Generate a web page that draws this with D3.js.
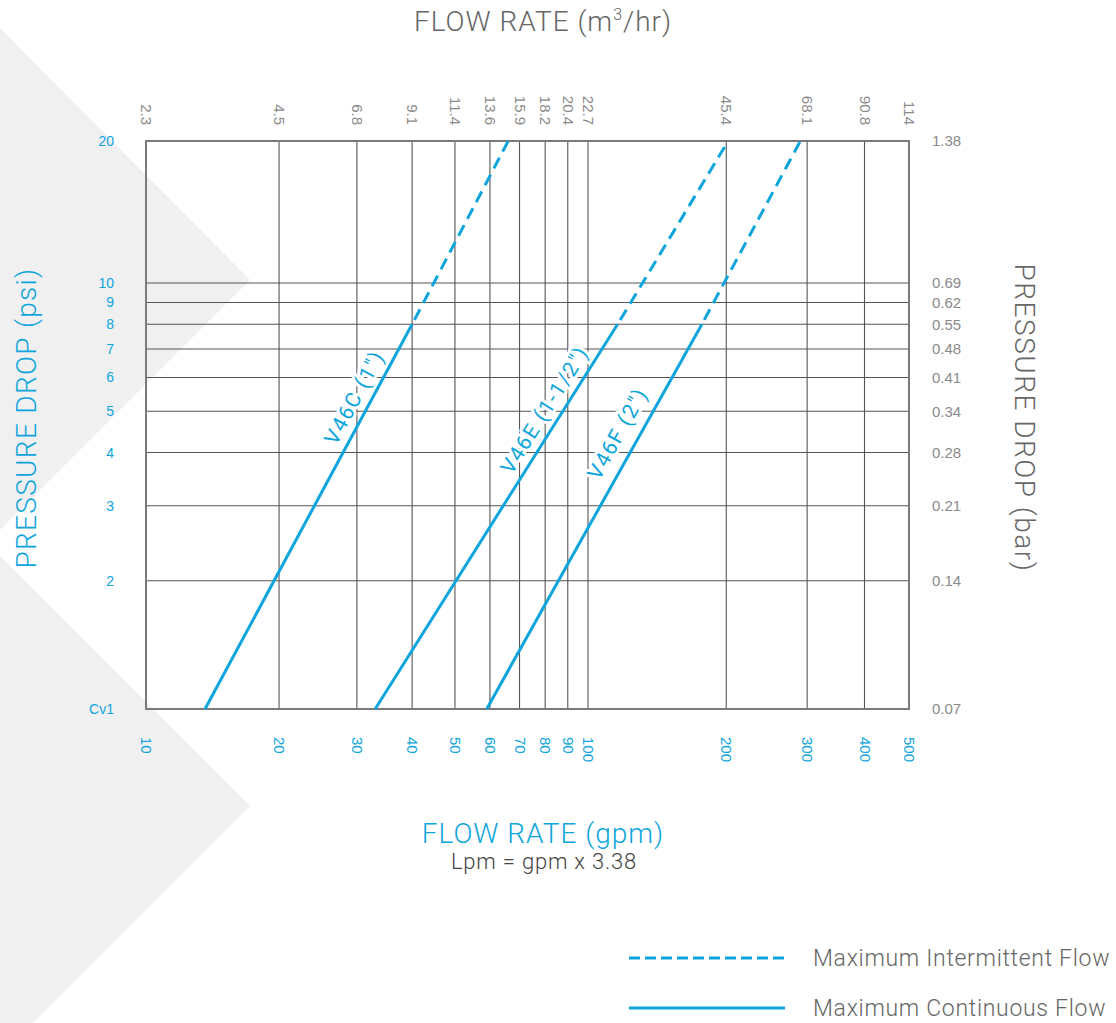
<!DOCTYPE html>
<html><head><meta charset="utf-8">
<script src="https://cdn.jsdelivr.net/npm/d3@7"></script>
<style>
html,body{margin:0;padding:0;background:#fff;}
svg{display:block;font-family:Roboto,"Open Sans",sans-serif;}
</style></head>
<body>
<svg id="c" width="1116" height="1023"></svg>
<script>
// ---------- data ----------
const gpmTicks   = [10,20,30,40,50,60,70,80,90,100,200,300,400,500];
const m3hrLabels = ["2.3","4.5","6.8","9.1","11.4","13.6","15.9","18.2","20.4","22.7","45.4","68.1","90.8","114"];
const psiTicks   = [1,2,3,4,5,6,7,8,9,10,20];
const psiLabels  = ["Cv1","2","3","4","5","6","7","8","9","10","20"];
const barLabels  = ["0.07","0.14","0.21","0.28","0.34","0.41","0.48","0.55","0.62","0.69","1.38"];
const valves     = ["V46C (1\")","V46E (1-1/2\")","V46F (2\")"];
// [gpm, psi] points: continuous (solid) part and intermittent (dashed) part
const continuousFlow = [
  [[13.6,1],[40,8]],
  [[33,1],[116,8]],
  [[59,1],[177,8]]
];
const intermittentFlow = [
  [[40,8],[66,20]],
  [[116,8],[202,20]],
  [[177,8],[290,20]]
];
const legendLabels = ["Maximum Intermittent Flow","Maximum Continuous Flow"];

// ---------- layout ----------
const BLUE = "#0ea5dc", GRAY = "#666", TICKGRAY = "#8a8a8a";
const L = 146, R = 909, T = 141, B = 709;
const svg = d3.select("#c");

// background chevrons
svg.append("path").attr("d","M0,28 L250,280 L0,530 Z").attr("fill","#f0f0f0");
svg.append("path").attr("d","M0,556 L250,806 L0,1056 Z").attr("fill","#f0f0f0");

const x = d3.scaleLog().domain([10,100,500]).range([L,588,R]);
const y = d3.scaleLog().domain([1,10,20]).range([B,283,T]);

// grid
const g = svg.append("g");
g.selectAll("line.v").data(gpmTicks).join("line")
  .attr("x1",d=>x(d)).attr("x2",d=>x(d)).attr("y1",T).attr("y2",B)
  .attr("stroke","#555").attr("stroke-width",1.1);
g.selectAll("line.h").data(psiTicks).join("line")
  .attr("x1",L).attr("x2",R).attr("y1",d=>y(d)).attr("y2",d=>y(d))
  .attr("stroke","#555").attr("stroke-width",1.1);

// axes (tick labels via d3 axes)
const fs = "15px";
const topAxis = d3.axisTop(x).tickValues(gpmTicks).tickSize(0)
  .tickFormat((d,i)=>m3hrLabels[i]);
svg.append("g").attr("transform",`translate(0,${T-16})`).call(topAxis)
  .call(s=>s.select(".domain").remove())
  .selectAll("text").attr("fill",TICKGRAY).attr("font-size",fs).attr("font-weight",300)
  .attr("transform","rotate(90)").attr("text-anchor","end")
  .attr("x",0).attr("y",0).attr("dx","0").attr("dy","0.35em");

const botAxis = d3.axisBottom(x).tickValues(gpmTicks).tickSize(0)
  .tickFormat(d=>d);
svg.append("g").attr("transform",`translate(0,${B+28})`).call(botAxis)
  .call(s=>s.select(".domain").remove())
  .selectAll("text").attr("fill",BLUE).attr("font-size",fs).attr("font-weight",300)
  .attr("transform","rotate(90)").attr("text-anchor","start")
  .attr("x",0).attr("y",0).attr("dy","0.35em");

const leftAxis = d3.axisLeft(y).tickValues(psiTicks).tickSize(0)
  .tickFormat((d,i)=>psiLabels[i]);
svg.append("g").attr("transform",`translate(${L-29},0)`).call(leftAxis)
  .call(s=>s.select(".domain").remove())
  .selectAll("text").attr("fill",BLUE).attr("font-size","14px").attr("font-weight",400);

const rightAxis = d3.axisRight(y).tickValues(psiTicks).tickSize(0)
  .tickFormat((d,i)=>barLabels[i]);
svg.append("g").attr("transform",`translate(${R+20},0)`).call(rightAxis)
  .call(s=>s.select(".domain").remove())
  .selectAll("text").attr("fill",TICKGRAY).attr("font-size",fs).attr("font-weight",300);

// valve labels along lines (white halo knocks out grid)
const labelFrac = [0.79,0.755,0.69];
const labelOff  = [9,9,13];
valves.forEach((name,i)=>{
  const p0 = [x(continuousFlow[i][0][0]), y(continuousFlow[i][0][1])];
  const p1 = [x(continuousFlow[i][1][0]), y(continuousFlow[i][1][1])];
  const f = labelFrac[i];
  const px = p0[0]+(p1[0]-p0[0])*f, py = p0[1]+(p1[1]-p0[1])*f;
  const ang = Math.atan2(p1[1]-p0[1], p1[0]-p0[0])*180/Math.PI;
  svg.append("text").attr("transform",`translate(${px},${py}) rotate(${ang})`)
    .attr("y",-labelOff[i]).attr("text-anchor","middle")
    .attr("fill",BLUE).attr("font-size","21px").attr("font-weight",400)
    .attr("letter-spacing","1.6px")
    .attr("stroke","#fff").attr("stroke-width",6).attr("stroke-linejoin","round")
    .attr("paint-order","stroke")
    .text(name);
});

// frame
svg.append("rect").attr("x",L).attr("y",T).attr("width",R-L).attr("height",B-T)
  .attr("fill","none").attr("stroke","#7a7a7a").attr("stroke-width",2);

// flow lines
const line = d3.line().x(d=>x(d[0])).y(d=>y(d[1]));
svg.selectAll("path.solid").data(continuousFlow).join("path")
  .attr("d",line).attr("fill","none").attr("stroke",BLUE).attr("stroke-width",3);
svg.selectAll("path.dash").data(intermittentFlow).join("path")
  .attr("d",line).attr("fill","none").attr("stroke",BLUE).attr("stroke-width",3)
  .attr("stroke-dasharray","12,7").attr("stroke-dashoffset",-5);

// axis titles
const title = svg.append("text").attr("x",543).attr("y",31).attr("text-anchor","middle")
  .attr("fill",GRAY).attr("font-size","28px").attr("font-weight",300).attr("letter-spacing","1px");
title.append("tspan").text("FLOW RATE (m");
title.append("tspan").attr("font-size","16px").attr("dy","-11").text("3");
title.append("tspan").attr("dy","11").text("/hr)");

svg.append("text").attr("transform","translate(36,418) rotate(-90)").attr("text-anchor","middle")
  .attr("fill",BLUE).attr("font-size","28px").attr("font-weight",300).attr("letter-spacing","1.3px")
  .text("PRESSURE DROP (psi)");
svg.append("text").attr("transform","translate(1015,418) rotate(90)").attr("text-anchor","middle")
  .attr("fill",GRAY).attr("font-size","28px").attr("font-weight",300).attr("letter-spacing","1.5px")
  .text("PRESSURE DROP (bar)");
svg.append("text").attr("x",543).attr("y",843).attr("text-anchor","middle")
  .attr("fill",BLUE).attr("font-size","28px").attr("font-weight",300).attr("letter-spacing","1px")
  .text("FLOW RATE (gpm)");
svg.append("text").attr("x",544).attr("y",869).attr("text-anchor","middle")
  .attr("fill","#444").attr("font-size","22px").attr("font-weight",300).attr("letter-spacing","0.8px")
  .text("Lpm = gpm x 3.38");

// legend
const lg = svg.append("g");
legendLabels.forEach((t,i)=>{
  const yy = 958 + i*50;
  lg.append("line").attr("x1",629).attr("x2",785).attr("y1",yy).attr("y2",yy)
    .attr("stroke",BLUE).attr("stroke-width",3)
    .attr("stroke-dasharray", i===0 ? "11,5" : null);
  lg.append("text").attr("x",813).attr("y",yy+8).attr("fill",GRAY)
    .attr("font-size","23px").attr("font-weight",300).attr("letter-spacing","0.7px").text(t);
});
</script>
</body></html>
